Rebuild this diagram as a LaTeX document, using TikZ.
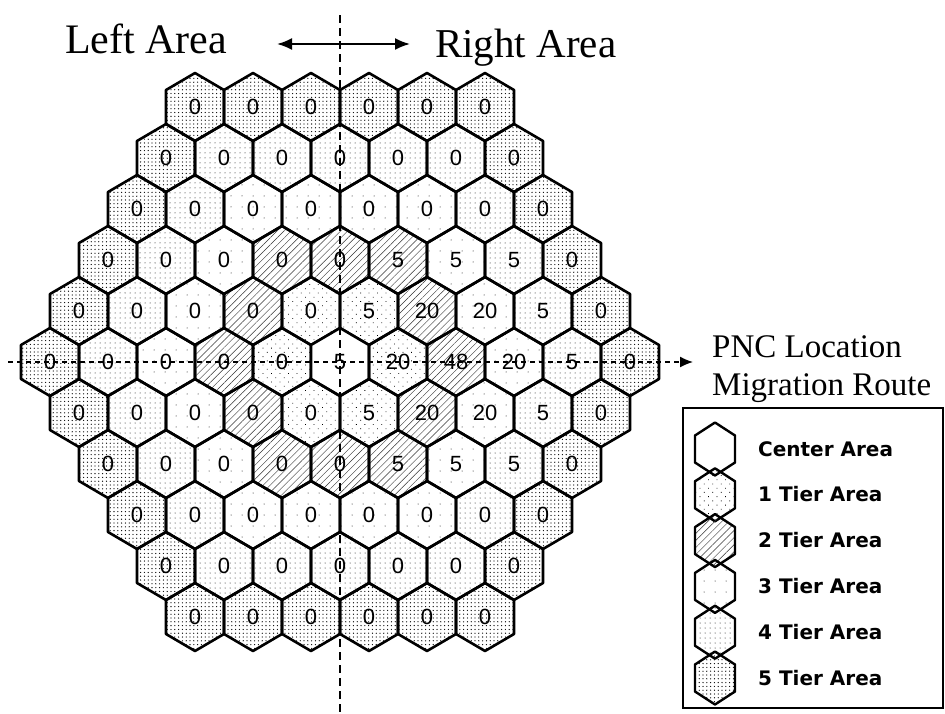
\documentclass[tikz,border=0pt]{standalone}
\usepackage{fontspec}
\setmainfont{Liberation Serif}
\newfontfamily\numfont{Liberation Sans}
\newfontfamily\legfont{DejaVu Sans}
\usetikzlibrary{arrows.meta,patterns.meta}

\tikzset{
    hexcell/.style={draw=black, line width=2.6pt, line join=round},
    tier0/.style={fill=white},
    tier1/.style={pattern={Dots[distance=6pt, radius=.55pt, angle=45]}},
    tier2/.style={pattern={Lines[angle=45, distance=5pt, line width=.45pt]}, pattern color=black!80},
    tier3/.style={pattern={Dots[distance=11pt, radius=.5pt]}},
    tier4/.style={pattern={Dots[distance=5pt, radius=.5pt]}},
    tier5/.style={pattern={Dots[distance=3.8pt, radius=.65pt]}},
    cellnum/.style={inner sep=0pt, font=\numfont\fontsize{22}{22}\selectfont},
    bigtext/.style={inner sep=0pt, anchor=base west},
    legtext/.style={inner sep=0pt, anchor=base west, font=\legfont\bfseries\fontsize{20}{20}\selectfont}
}

\begin{document}
\begin{tikzpicture}[x=1pt, y=-1pt]
    % Page
    \fill[white] (0,0) rectangle (945,713);
    \useasboundingbox (0,0) rectangle (945,713);

    % Hexagon grid, tier = ring distance from the hex at (340,362)
    \foreach \vals [count=\k] in {
        {0,0,0,0,0,0},
        {0,0,0,0,0,0,0},
        {0,0,0,0,0,0,0,0},
        {0,0,0,0,0,5,5,5,0},
        {0,0,0,0,0,5,20,20,5,0},
        {0,0,0,0,0,5,20,48,20,5,0},
        {0,0,0,0,0,5,20,20,5,0},
        {0,0,0,0,0,5,5,5,0},
        {0,0,0,0,0,0,0,0},
        {0,0,0,0,0,0,0},
        {0,0,0,0,0,0}}{
        \pgfmathtruncatemacro{\r}{\k-6}
        \pgfmathtruncatemacro{\n}{11-abs(\r)}
        \foreach \v [count=\j from 0] in \vals {
            \pgfmathsetmacro{\cx}{340+(\j-(\n-1)/2)*58}
            \pgfmathsetmacro{\cy}{362+(\r)*51}
            \pgfmathtruncatemacro{\q}{\j-5+(abs(\r)-(\r))/2}
            \pgfmathtruncatemacro{\d}{(abs(\q)+abs(\r)+abs((\q)+(\r)))/2}
            \draw[hexcell, tier\d] (\cx,\cy) ++(0,-34) -- ++(29,17) -- ++(0,34)
                -- ++(-29,17) -- ++(-29,-17) -- ++(0,-34) -- cycle;
            \node[cellnum] (c\k-\j) at (\cx,\cy) {\v};
        }
    }

    % Dividing line and migration route
    \coordinate (divTop) at (340,15);
    \coordinate (divBot) at (340,713);
    \draw[line width=2pt, dash pattern=on 8pt off 5pt] (divTop) -- (divBot);
    \coordinate (routeA) at (8,362);
    \coordinate (routeB) at (693,362);
    \draw[line width=1.4pt, dash pattern=on 5pt off 4pt, -{Latex[length=13pt, width=11pt]}] (routeA) -- (routeB);

    % Area titles
    \node[bigtext, font=\fontsize{42}{42}\selectfont] (left) at (65,53) {Left Area};
    \node[bigtext, font=\fontsize{41}{41}\selectfont] (right) at (435,57) {Right Area};
    \coordinate (arrL) at (277,44);
    \coordinate (arrR) at (410,44);
    \draw[line width=2pt, {Latex[length=15pt, width=12pt]}-{Latex[length=15pt, width=12pt]}] (arrL) -- (arrR);

    % Route label
    \node[bigtext, font=\fontsize{33}{33}\selectfont] (pnc) at (712,357) {PNC Location};
    \node[bigtext, font=\fontsize{33}{33}\selectfont] (mig) at (712,395) {Migration Route};

    % Legend
    \draw[line width=1.6pt] (683,408) rectangle (943,708);
    \foreach \t/\lab [count=\j from 0] in {0/Center Area, 1/1 Tier Area, 2/2 Tier Area,
        3/3 Tier Area, 4/4 Tier Area, 5/5 Tier Area}{
        \pgfmathsetmacro{\ly}{449+45.8*\j}
        \draw[hexcell, line width=2.4pt, tier\t] (715,\ly) ++(0,-26.5) -- ++(20,13) -- ++(0,27)
            -- ++(-20,13) -- ++(-20,-13) -- ++(0,-27) -- cycle;
        \node[legtext] (leg\j) at (758,\ly+7) {\lab};
    }
\end{tikzpicture}
\end{document}
